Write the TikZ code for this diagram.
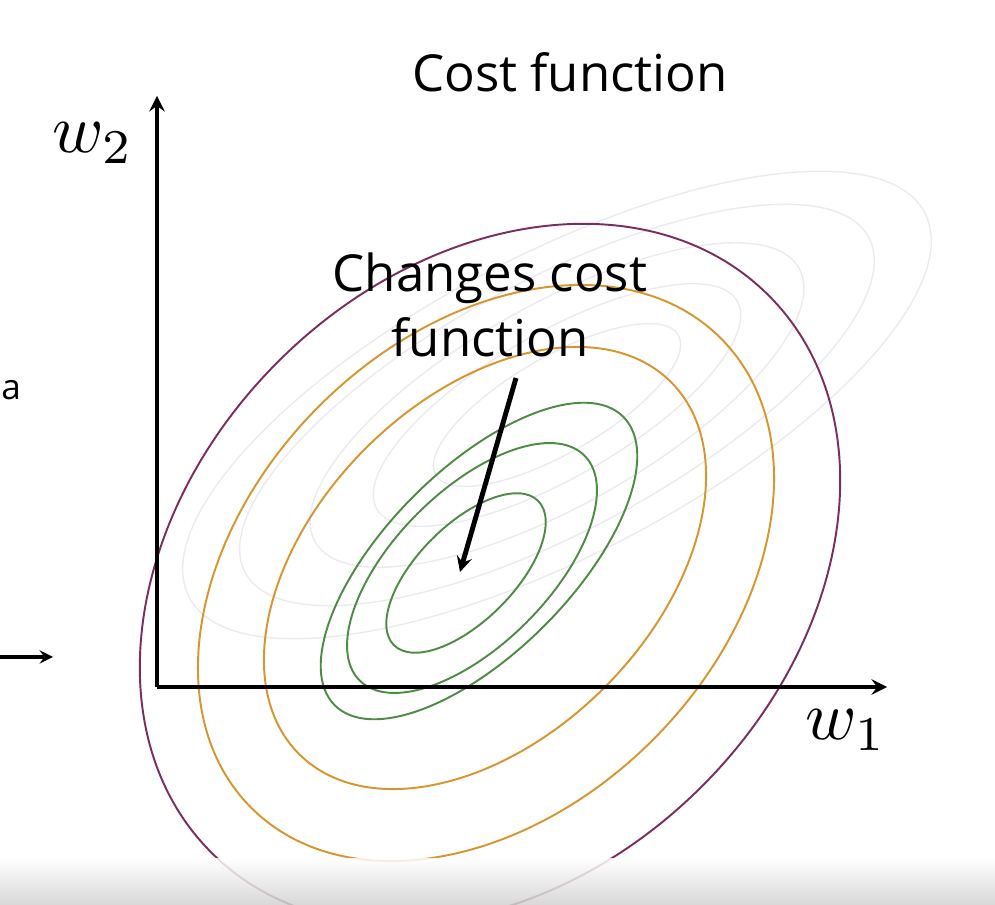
\documentclass[tikz,border=0pt]{standalone}
\usepackage{fontspec}
\setmainfont{Open Sans}
\definecolor{plum}{HTML}{7B2D5E}
\definecolor{amber}{HTML}{D8952E}
\definecolor{leaf}{HTML}{4E8B45}
\definecolor{mist}{HTML}{EAEAF0}
\begin{document}
\begin{tikzpicture}[>=stealth,x=0.02cm,y=-0.02cm,
    faint/.style={draw=mist,line width=0.8pt},
    contour/.style={line width=1.1pt},
    axis/.style={->,line width=2.8pt},
    caption/.style={font=\fontsize{29}{37}\selectfont,align=center},
    weight/.style={scale=3.95}]
    \useasboundingbox (0,0) rectangle (995,905);
    \coordinate (o) at (157,687);
    \coordinate (ytop) at (157,96);
    \coordinate (xend) at (887,687);
    \coordinate (f) at (557,405);
    \foreach \ra/\rb/\t in {415/150/27.6,354/125/28.3,278/100/29.5,208/72/30,140/48/30}
        \draw[faint,rotate around={\t:(f)}] (f) ellipse ({\ra} and {\rb});
    \draw[contour,plum,rotate around={45:(490,574)}] (490,574) ellipse (394 and 300);
    \draw[contour,amber,rotate around={45:(486,573)}] (486,573) ellipse (332 and 236);
    \draw[contour,amber,rotate around={45:(485,568)}] (485,568) ellipse (263 and 169);
    \draw[contour,leaf,rotate around={45:(479,561)}] (479,561) ellipse (204 and 92);
    \draw[contour,leaf,rotate around={45:(472,568)}] (472,568) ellipse (159 and 77);
    \draw[contour,leaf,rotate around={45:(466,573)}] (466,573) ellipse (102 and 48);
    \draw[axis] (o) -- (ytop);
    \draw[axis] (o) -- (xend);
    \node[caption] (title) at (570,72) {Cost function};
    \node[caption] (note) at (490,305) {Changes cost\\function};
    \node[weight] (wy) at (93,143) {$w_2$};
    \node[weight] (wx) at (846,730) {$w_1$};
    \node[font=\fontsize{20}{24}\selectfont,anchor=west,inner sep=0pt] (cut) at (1,390) {a};
    \coordinate (lt) at (-5,657);
    \coordinate (rt) at (53,657);
    \draw[->,line width=2.3pt] (lt) -- (rt);
    \coordinate (from) at (516,378);
    \coordinate (to) at (460,572);
    \draw[->,line width=2.8pt] (from) -- (to);
    \shade[top color=white,bottom color=black!18,fill opacity=0.85] (0,858) rectangle (995,905);
\end{tikzpicture}
\end{document}
